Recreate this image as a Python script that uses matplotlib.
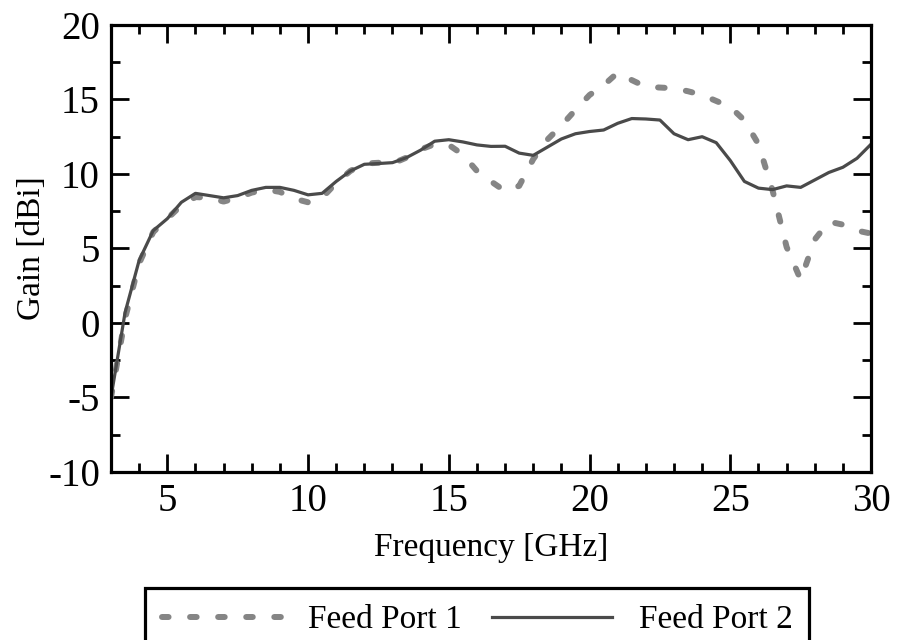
import matplotlib
matplotlib.use("Agg")
import matplotlib.pyplot as plt
from matplotlib.ticker import MultipleLocator

plt.rcParams['font.family'] = ['Liberation Serif', 'DejaVu Serif']
plt.rcParams['axes.unicode_minus'] = False

freq = [3.0, 3.5, 4.0, 4.5, 5.0, 5.5, 6.0, 6.5, 7.0, 7.5, 8.0, 8.5, 9.0, 9.5,
        10.0, 10.5, 11.0, 11.5, 12.0, 12.5, 13.0, 13.5, 14.0, 14.5, 15.0, 15.5,
        16.0, 16.5, 17.0, 17.5, 18.0, 18.5, 19.0, 19.5, 20.0, 20.5, 21.0, 21.5,
        22.0, 22.5, 23.0, 23.5, 24.0, 24.5, 25.0, 25.5, 26.0, 26.5, 27.0, 27.5,
        28.0, 28.5, 29.0, 29.5, 30.0]

gain_port1 = [-5.0, 0.3, 4.0, 6.1, 7.0, 7.9, 8.45, 8.4, 8.15, 8.4, 8.75, 8.95,
              8.8, 8.35, 8.1, 8.4, 9.4, 10.2, 10.7, 10.75, 10.7, 11.1, 11.65,
              12.0, 11.95, 11.3, 10.2, 9.5, 8.85, 9.2, 11.0, 12.3, 13.25, 14.3,
              15.3, 15.95, 16.8, 16.3, 15.85, 15.8, 15.75, 15.55, 15.3, 14.9,
              14.5, 13.6, 12.0, 8.9, 5.1, 2.9, 5.6, 6.8, 6.6, 6.2, 6.0]

gain_port2 = [-5.0, 0.7, 4.2, 6.2, 7.0, 8.1, 8.7, 8.55, 8.4, 8.55, 8.9, 9.1,
              9.1, 8.9, 8.6, 8.7, 9.5, 10.2, 10.65, 10.7, 10.76, 11.1, 11.6,
              12.2, 12.3, 12.15, 11.95, 11.85, 11.86, 11.4, 11.25, 11.8, 12.35,
              12.7, 12.85, 12.95, 13.4, 13.72, 13.69, 13.62, 12.7, 12.3, 12.5,
              12.1, 10.9, 9.5, 9.05, 8.95, 9.2, 9.1, 9.6, 10.1, 10.45, 11.05,
              12.0]

fig = plt.figure(figsize=(8.98, 6.4), dpi=100)
ax = fig.add_axes([0.1236, 0.2625, 0.8464, 0.6985])

l1, = ax.plot(freq, gain_port1, color='#858585', lw=4.3, linestyle=(0, (1.1, 3.6)),
              dash_capstyle='round', label='Feed Port 1')
l2, = ax.plot(freq, gain_port2, color='#4a4a4a', lw=2.3, label='Feed Port 2')

ax.set_xlim(3, 30)
ax.set_ylim(-10, 20)
ax.xaxis.set_major_locator(MultipleLocator(5))
ax.xaxis.set_minor_locator(MultipleLocator(1))
ax.yaxis.set_major_locator(MultipleLocator(5))
ax.yaxis.set_minor_locator(MultipleLocator(2.5))

ax.tick_params(which='both', direction='in', top=True, right=True, width=2,
               labelsize=28, color='black')
ax.tick_params(which='major', length=13, pad=8)
ax.tick_params(which='minor', length=6.5)
for sp in ax.spines.values():
    sp.set_linewidth(2.3)

ax.set_xlabel('Frequency [GHz]', fontsize=24, labelpad=9)
ax.set_ylabel('Gain [dBi]', fontsize=24, labelpad=1)

leg = fig.legend(handles=[l1, l2], loc='upper center',
                 bbox_to_anchor=(477 / 898, 1 - 588 / 640), ncol=2,
                 fontsize=24, frameon=True, fancybox=False, framealpha=1,
                 edgecolor='black', handlelength=3.6, handletextpad=0.8,
                 columnspacing=0.9, borderpad=0.5, borderaxespad=0)
leg.get_frame().set_linewidth(2.3)

fig.savefig('out.png', dpi=100)
